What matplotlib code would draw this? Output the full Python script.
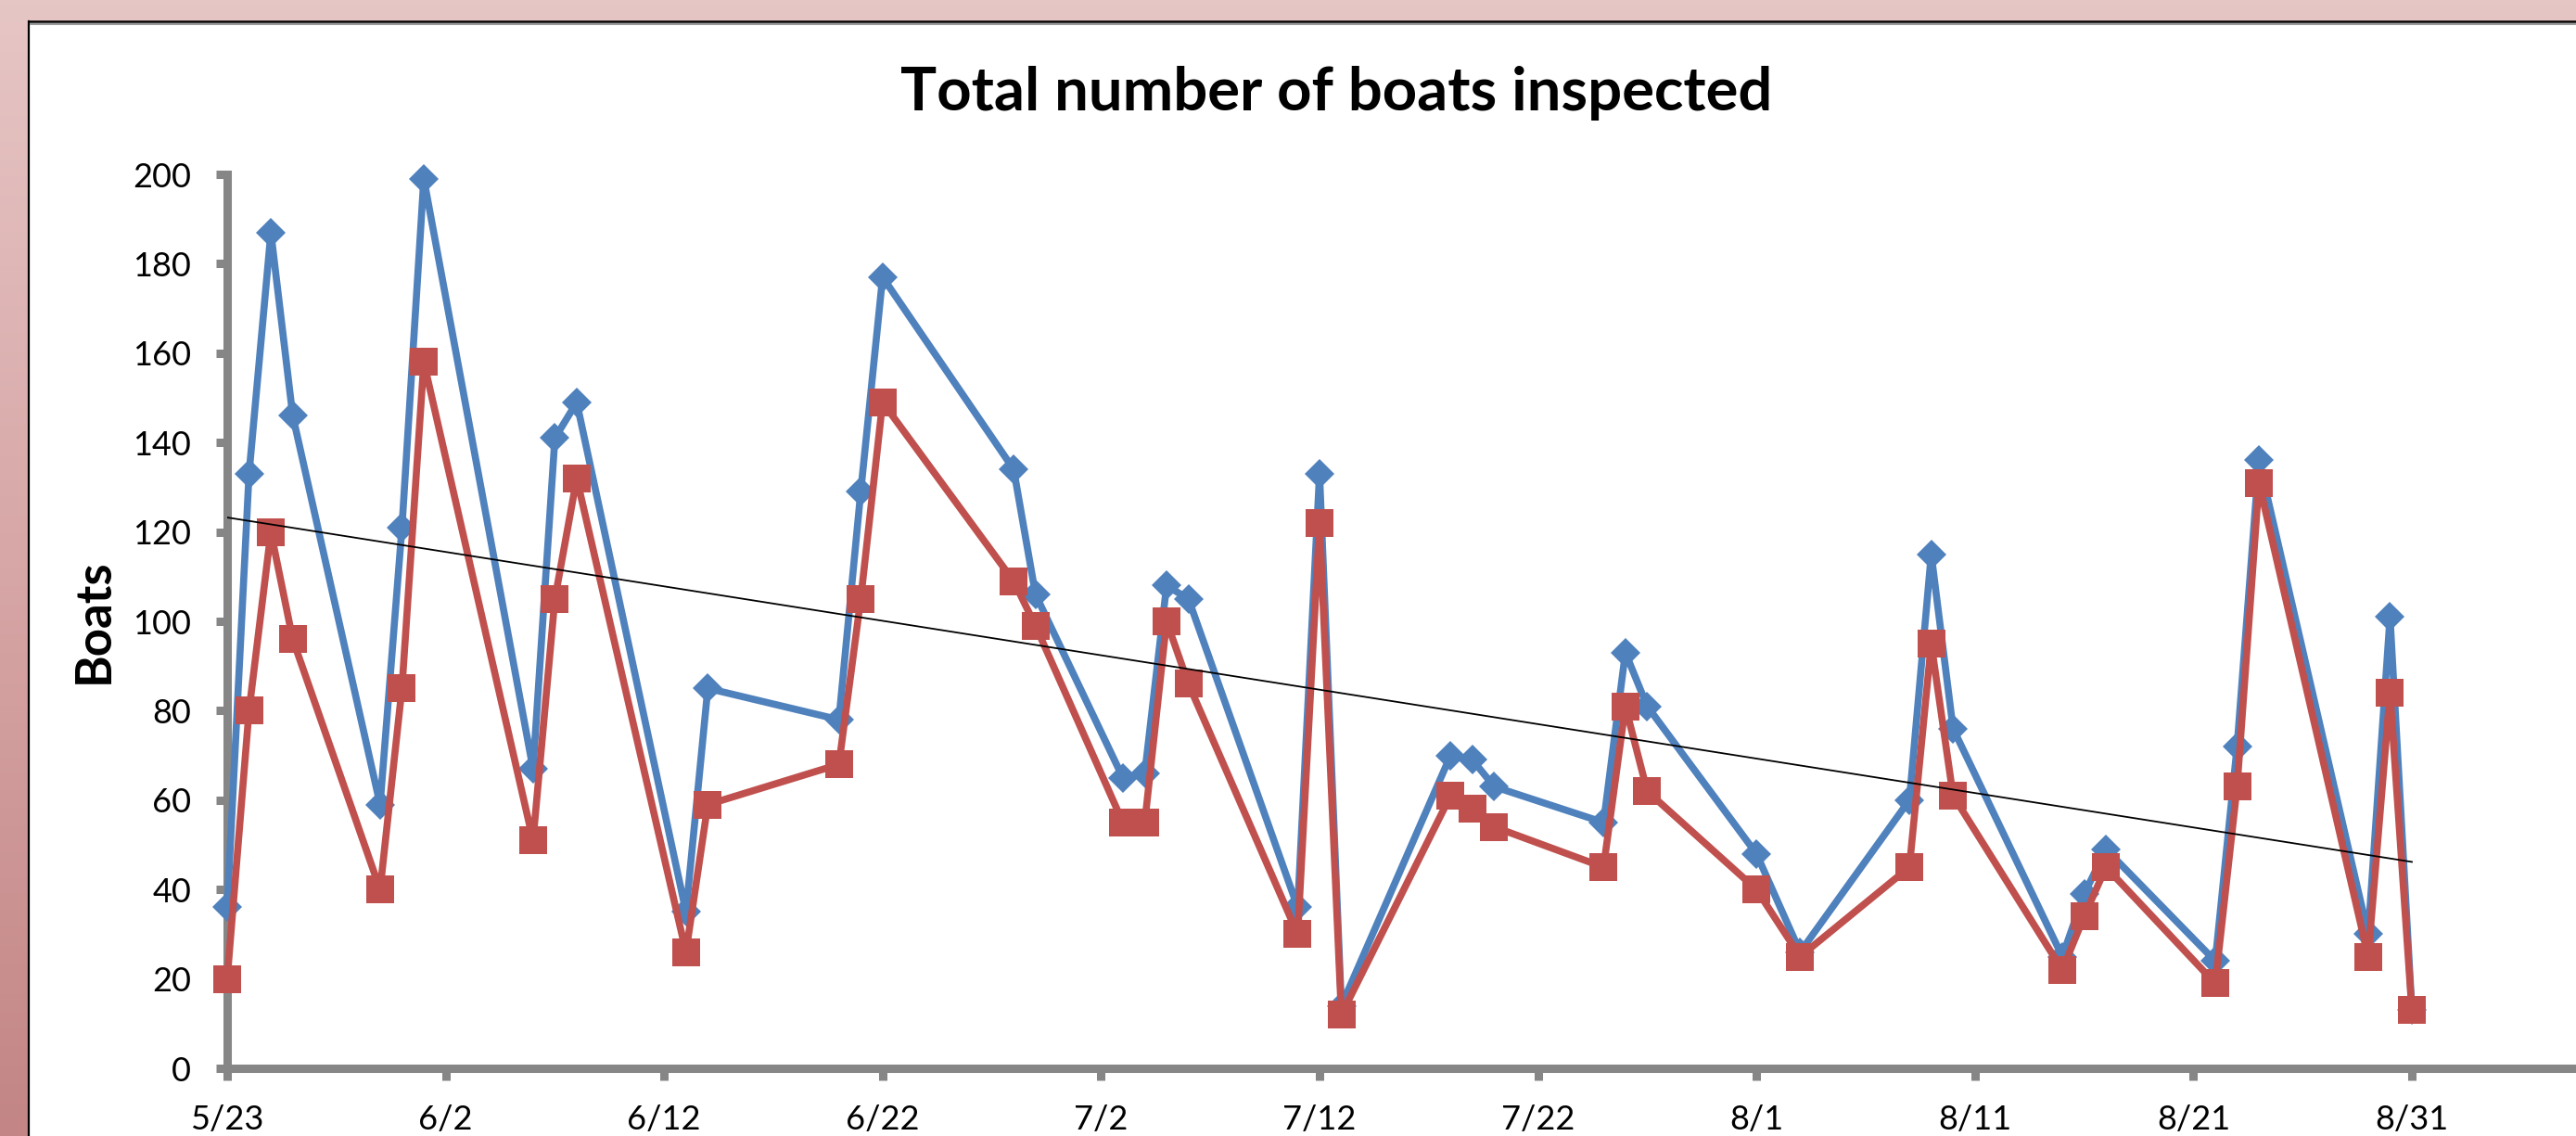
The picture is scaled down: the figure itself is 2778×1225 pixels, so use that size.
import matplotlib
matplotlib.use("Agg")
import matplotlib.pyplot as plt
from matplotlib.colors import LinearSegmentedColormap
from datetime import datetime, timedelta
import numpy as np

# data
dates = ["5/23", "5/24", "5/25", "5/26", "5/30", "5/31", "6/1", "6/6", "6/7", "6/8",
         "6/13", "6/14", "6/20", "6/21", "6/22", "6/28", "6/29", "7/3", "7/4", "7/5",
         "7/6", "7/11", "7/12", "7/13", "7/18", "7/19", "7/20", "7/25", "7/26", "7/27",
         "8/1", "8/3", "8/8", "8/9", "8/10", "8/15", "8/16", "8/17", "8/22", "8/23",
         "8/24", "8/29", "8/30", "8/31"]
total = [36, 133, 187, 146, 59, 121, 199, 67, 141, 149,
         35, 85, 78, 129, 177, 134, 106, 65, 66, 108,
         105, 36, 133, 14, 70, 69, 63, 55, 93, 81,
         48, 26, 60, 115, 76, 25, 39, 49, 24, 72,
         136, 30, 101, 13]
other = [20, 80, 120, 96, 40, 85, 158, 51, 105, 132,
         26, 59, 68, 105, 149, 109, 99, 55, 55, 100,
         86, 30, 122, 12, 61, 58, 54, 45, 81, 62,
         40, 25, 45, 95, 61, 22, 34, 45, 19, 63,
         131, 25, 84, 13]
tick_labels = ["5/23", "6/2", "6/12", "6/22", "7/2", "7/12", "7/22",
               "8/1", "8/11", "8/21", "8/31"]

year = 2011
x = [datetime.strptime(f"{d}/{year}", "%m/%d/%Y") for d in dates]
xt = [datetime.strptime(f"{d}/{year}", "%m/%d/%Y") for d in tick_labels]

W, H = 2778, 1225
fig = plt.figure(figsize=(W / 100, H / 100), dpi=100)

# slide background: pink gradient, white chart area with dark border
bg = fig.add_axes([0, 0, 1, 1], zorder=-10)
cmap = LinearSegmentedColormap.from_list("pink", ["#E6C6C5", "#D7A6A6", "#C38585"])
bg.imshow(np.linspace(0, 1, 256).reshape(-1, 1), aspect="auto", cmap=cmap,
          extent=[0, 1, 0, 1], origin="upper")
bg.add_patch(plt.Rectangle((31 / W, 0), 1, 1 - 24 / H, color="white", zorder=2))
bg.plot([31 / W, 31 / W], [0, 1 - 23 / H], color="black", lw=1.6, zorder=3)
bg.plot([31 / W, 1], [1 - 23 / H, 1 - 23 / H], color="black", lw=1.8, zorder=3)
bg.plot([33 / W, 1], [1 - 26 / H, 1 - 26 / H], color="#9a9a9a", lw=1.5, zorder=3)
bg.set_xlim(0, 1)
bg.set_ylim(0, 1)
bg.axis("off")

font = "Lato"
gray = "#868686"

ax = fig.add_axes([245 / W, (H - 1152) / H, 110 * 23.56 / W, 964 / H])
ax.set_facecolor("none")

ax.plot(x, total, color="#4F81BD", lw=5.5, marker="D", ms=16, mew=0, clip_on=False, zorder=3)
ax.plot(x, other, color="#C0504D", lw=5.5, marker="s", ms=22, mew=0, clip_on=False, zorder=4)

# linear trendline of the total
days = np.array([(d - x[0]).days for d in x])
k, b = np.polyfit(days, total, 1)
ax.plot([x[0], x[-1]], [b, k * days[-1] + b], color="black", lw=1.3, zorder=5)

ax.set_xlim(x[0], x[0] + timedelta(days=110))
ax.set_ylim(0, 200)
ax.set_yticks(range(0, 201, 20))
ax.set_xticks(xt)
ax.set_xticklabels(tick_labels)

for s in ["top", "right"]:
    ax.spines[s].set_visible(False)
for s in ["left", "bottom"]:
    ax.spines[s].set_color(gray)
    ax.spines[s].set_linewidth(6.5)
    ax.spines[s].set_capstyle("projecting")
ax.tick_params(axis="both", direction="out", length=9, width=6.5, color=gray,
               labelsize=26, pad=19)
for lab in ax.get_xticklabels() + ax.get_yticklabels():
    lab.set_fontfamily(font)

fig.text(101 / W, 1 - 670 / H, "Boats", rotation=90, fontsize=38, fontweight="bold",
         family=font, ha="center", va="center")
fig.text(1441 / W, 1 - 101 / H, "Total number of boats inspected", fontsize=47,
         fontweight="bold", family=font, ha="center", va="center")

fig.savefig("out.png", dpi=100)
